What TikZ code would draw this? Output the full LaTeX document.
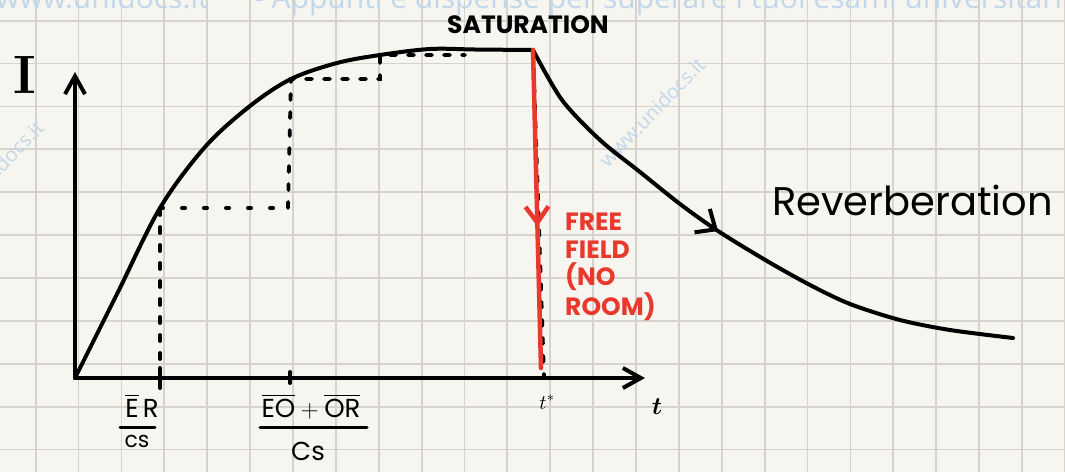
\documentclass[tikz,border=0pt]{standalone}
\usepackage{fontspec}
\usepackage{amsmath}
\usetikzlibrary{arrows.meta,decorations.markings}
\newfontfamily\handfont{Poppins}
\newfontfamily\wmfont{Open Sans}
\definecolor{paper}{HTML}{F7F5F0}
\definecolor{gridgray}{HTML}{D6D2CC}
\definecolor{inkred}{HTML}{E8392C}
\definecolor{wmblue}{HTML}{C2D7EA}
\tikzset{
  gridline/.style={gridgray, line width=1.8pt},
  ink/.style={line width=4pt, line cap=round, line join=round},
  axisarrow/.style={ink, -{Straight Barb[length=18pt,width=20pt]}},
  dashline/.style={line width=3.8pt, line cap=round, dash pattern=on 6pt off 12pt},
  dotline/.style={line width=4pt, line cap=round, dash pattern=on 3pt off 19pt},
  redline/.style={inkred, line width=4.5pt, line cap=round},
  midbarb/.style 2 args={postaction={decorate}, decoration={markings,
    mark=at position #1 with {\arrow{Straight Barb[length=16pt,width=#2]}}}},
  wmtext/.style={wmblue, inner sep=0pt, font=\wmfont\fontsize{30}{30}\selectfont},
  handtext/.style={inner sep=0pt, font=\handfont\fontsize{#1}{#1}\selectfont}
}

\begin{document}
\begin{tikzpicture}[x=1pt,y=-1pt]
    \useasboundingbox (0,0) rectangle (1065,472);
    \fill[paper] (0,0) rectangle (1065,472);
    \foreach \i in {0,...,24} \draw[gridline] ({35.7+42.88*\i},0) -- ({35.7+42.88*\i},472);
    \foreach \j in {0,...,10} \draw[gridline] (0,{20.7+42.88*\j}) -- (1065,{20.7+42.88*\j});
    \begin{scope}
        \clip (0,0) rectangle (1065,472);
        \node[wmtext, anchor=base west] (wmtop) at (-4,8) {www.unidocs.it \quad\ - Appunti e dispense per superare i tuoi esami universitari};
        \node[wmtext, font=\wmfont\fontsize{20}{20}\selectfont, rotate=46] (wmmid) at (652,112) {www.unidocs.it};
        \node[wmtext, font=\wmfont\fontsize{20}{20}\selectfont, rotate=46, anchor=east] (wmleft) at (40,124) {www.unidocs.it};
    \end{scope}

    \coordinate (O) at (75,378);
    \coordinate (ytop) at (75,72);
    \coordinate (xend) at (645,378);
    \coordinate (sat) at (533,50);
    \coordinate (tstarpt) at (544,377);
    \coordinate (redend) at (541,368);
    \coordinate (er) at (160,208);
    \coordinate (erb) at (288,208);
    \coordinate (eo) at (291,79);
    \coordinate (eob) at (380,79);
    \coordinate (ex) at (380,55);
    \coordinate (exb) at (465,55);

    \draw[dashline] (160,377) -- (er);
    \draw[dotline] (er) -- (erb);
    \draw[dashline] (erb) -- (eo) -- (eob) -- (ex) -- (exb);
    \draw[dashline] (sat) -- (tstarpt);

    \draw[ink] plot[smooth, tension=0.55] coordinates {(O) (118,292) (er) (205,147) (250,106) (eo) (337,63) (ex) (430,49) (475,49.5) (sat)};
    \draw[ink, midbarb={0.452}{28pt}] plot[smooth, tension=0.5] coordinates {(sat) (562,100) (600,140) (640,172) (680,204) (718,231) (767,261) (810,285) (850,304) (900,320) (950,330) (1013,338)};

    \draw[axisarrow] (O) -- (ytop);
    \draw[axisarrow] (O) -- (xend);
    \draw[ink] (160,368) -- (160,388);
    \draw[ink] (290,372) -- (290,383);

    \draw[redline, midbarb={0.555}{23pt}] (sat) -- (redend);

    \node[inner sep=0pt, anchor=base, font=\rmfamily\bfseries\fontsize{54}{54}\selectfont] (ilabel) at (25,93) {I};
    \node[inner sep=0pt, anchor=base, font=\boldmath\fontsize{40}{40}\selectfont] (tlabel) at (657,414) {$t$};
    \node[inner sep=0pt, anchor=base, font=\fontsize{22}{22}\selectfont] (tstar) at (547,409) {$t^{*}$};

    \node[handtext=26, anchor=base, font=\handfont\bfseries\fontsize{25}{25}\selectfont] (satlabel) at (528,33) {SATURATION};
    \node[handtext=40, anchor=base west] (reverb) at (772,215) {Reverberation};
    \node[handtext=25, inkred, anchor=north west, align=left, font=\handfont\bfseries\fontsize{25}{27.6}\selectfont] (freefield) at (565,213) {FREE\\FIELD\\(NO\\ROOM)};

    \node[handtext=26, anchor=base] (ernum) at (142,417) {$\overline{\text{E}}\,\text{R}$};
    \node[handtext=22, anchor=base] (erden) at (137,447) {cs};
    \draw[ink, line width=3pt] (120,427) -- (155,427);
    \node[handtext=26, anchor=base] (eonum) at (311,417) {$\overline{\text{EO}}+\overline{\text{OR}}$};
    \node[handtext=26, anchor=base] (eoden) at (308,460) {Cs};
    \draw[ink, line width=3pt] (260,427) -- (367,427);
\end{tikzpicture}
\end{document}
